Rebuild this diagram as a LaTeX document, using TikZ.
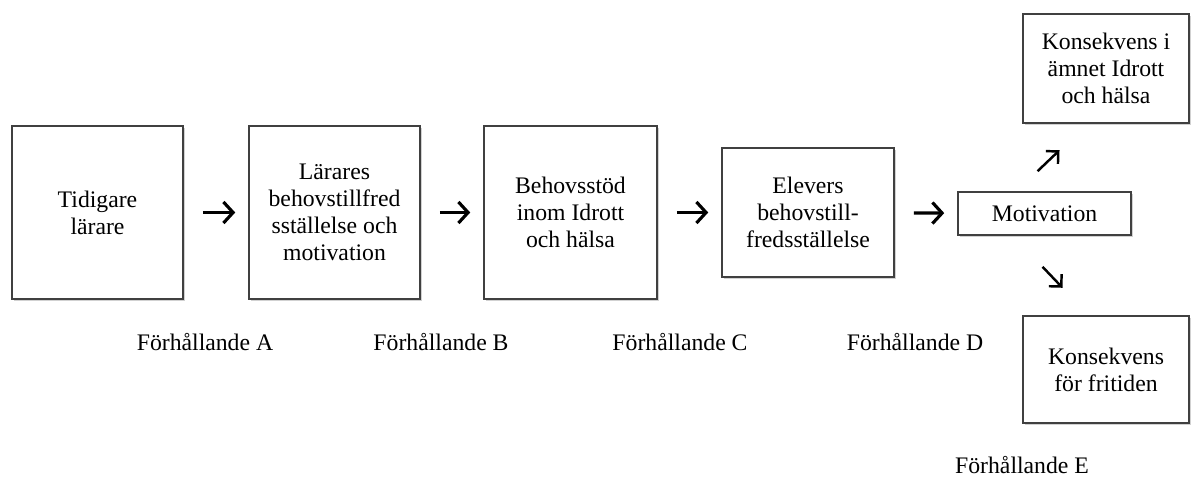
\documentclass[tikz,border=0pt]{standalone}
\usepackage{fontspec}
\setmainfont{Liberation Serif}
\usetikzlibrary{arrows.meta,shadows}

\begin{document}
\begin{tikzpicture}[x=0.02cm,y=-0.02cm,
				box/.style ={rectangle, draw=black!75, line width=0.9pt, fill=white,
					inner sep=0pt, align=center, font=\fontsize{13.5}{15.3}\selectfont,
					drop shadow={shadow xshift=0.9pt, shadow yshift=-0.9pt, fill=black!30, opacity=0.6}},
				tag/.style ={font=\fontsize{13.5}{15.3}\selectfont, inner sep=0pt},
				line/.style ={draw, line width=1.8pt, -{Straight Barb[length=5.5pt,width=12pt]},
					shorten <=0.38cm, shorten >=0.26cm},
				slant/.style ={draw, line width=1.4pt, -{Straight Barb[length=5pt,width=10pt]}}]
				\useasboundingbox (0,0) rectangle (1192,480);
				% chain of boxes
				\node [box, minimum width=3.42cm, minimum height=3.46cm] (tidigare) at (97.5,212.5) {Tidigare\\lärare};
				\node [box, minimum width=3.42cm, minimum height=3.46cm] (larares) at (334.5,212.5) {Lärares\\behovstillfred\\sställelse och\\motivation};
				\node [box, minimum width=3.46cm, minimum height=3.46cm] (behovsstod) at (570.5,212.5) {Behovsstöd\\inom Idrott\\och hälsa};
				\node [box, minimum width=3.44cm, minimum height=2.58cm] (elevers) at (808,212.5) {Elevers\\behovstill-\\fredsställelse};
				\node [box, minimum width=3.46cm, minimum height=0.86cm] (motivation) at (1044.5,213.5) {Motivation};
				% consequences
				\node [box, minimum width=3.32cm, minimum height=2.18cm] (amnet) at (1106,68.5) {Konsekvens i\\ämnet Idrott\\och hälsa};
				\node [box, minimum width=3.32cm, minimum height=2.14cm] (fritid) at (1106,369.5) {Konsekvens\\för fritiden};
				% relation labels
				\node [tag] (forhA) at (205,342) {Förhållande A};
				\node [tag] (forhB) at (441,342) {Förhållande B};
				\node [tag] (forhC) at (680,342) {Förhållande C};
				\node [tag] (forhD) at (915,342) {Förhållande D};
				\node [tag] (forhE) at (1022,465) {Förhållande E};
				% arrows between boxes
				\begin{scope}[every path/.style=line]
					\path (tidigare) -- (larares);
					\path (larares) -- (behovsstod);
					\path (behovsstod) -- (elevers);
					\path (elevers) -- (motivation);
				\end{scope}
				\path [slant] ([xshift=-0.14cm,yshift=0.4cm]motivation.north) -- ++(22,-21);
				\path [slant] ([xshift=-0.04cm,yshift=-0.62cm]motivation.south) -- ++(20,21);
			\end{tikzpicture}
\end{document}
